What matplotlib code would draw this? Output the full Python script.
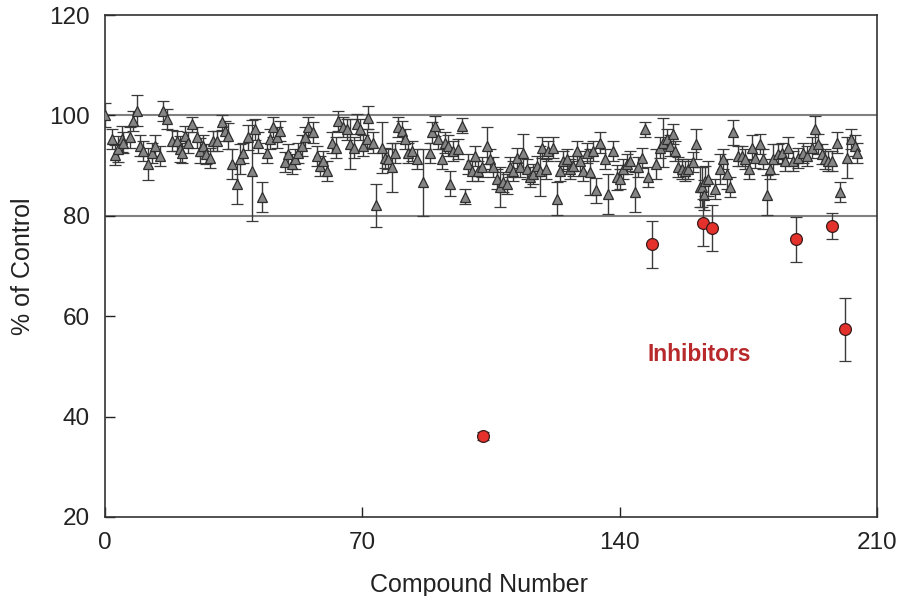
import matplotlib
matplotlib.use('Agg')
import matplotlib.pyplot as plt

plt.rcParams['font.family'] = ['Liberation Sans', 'DejaVu Sans']

# screened compounds (gray triangles): compound number, % of control, error
cmpd = [0, 2, 2.7, 3.6, 4.5, 5, 6.8, 7.7, 8.6, 9.5, 10.4, 11.8, 12.7, 13.6, 15, 15.9,
        16.8, 18.1, 19.5, 20.4, 21, 21.8, 22.7, 23.6, 24.9, 25.8, 26.7, 27.6, 28.6,
        29.5, 30.4, 31.7, 32.6, 33.5, 34.5, 35.8, 36.7, 37.6, 39, 39.9, 40.8, 41.7,
        42.6, 44, 44.9, 45.8, 46.7, 47.6, 49, 49.9, 50.8, 51.7, 52.6, 53.5, 54.4,
        55.3, 56.7, 57.6, 58.5, 59.4, 60.3, 61.7, 62.8, 63.5, 64.8, 65.7, 66.6, 67.6,
        68.5, 69.4, 70.3, 71.2, 71.6, 73, 73.7, 75.3, 76.2, 77.1, 78, 78.9, 79.8,
        80.7, 81.6, 82.5, 83.4, 84.8, 86.6, 88.4, 88.9, 89.8, 90.7, 91.6, 92.5, 93.4,
        93.8, 94.8, 96.1, 97, 97.9, 98.8, 99.7, 100.7, 101.6, 102.5, 103.8, 104.7,
        105.6, 106.5, 107.4, 108.4, 109.3, 110.2, 111.1, 112, 112.9, 113.8, 114.8,
        115.6, 116.5, 117.4, 118.3, 118.8, 120.1, 120.6, 121.8, 122.9, 123.8, 124.7,
        125.6, 126.5, 127.4, 128.3, 129.2, 130.1, 131, 131.9, 132.8, 133.7, 134.6,
        136, 136.9, 138.3, 139.2, 140.1, 141, 141.9, 142.8, 144.2, 145.1, 146, 146.9,
        147.8, 150, 151, 151.9, 152.8, 153.7, 154.4, 155.1, 156, 156.9, 157.8, 158.7,
        160, 160.9, 161.9, 162.3, 163, 163.2, 164.1, 166, 167.3, 168, 169.1, 170,
        170.9, 172.3, 173.2, 174.1, 175.3, 175.9, 176.8, 178.2, 179.1, 180, 180.9,
        181.8, 183.2, 184.1, 185, 185.9, 187.2, 188.6, 190, 190.9, 192.2, 193.1, 194,
        195, 195.9, 196.8, 197.7, 199, 199.9, 201.8, 202.8, 204, 204.5]
pct = [100, 95.3, 92.2, 93.3, 95.3, 94.6, 95.6, 98.9, 100.9, 94, 93, 90.3, 92.6, 94, 92, 100.9,
       99.2, 95, 94.9, 93.3, 92.6, 95.9, 94.6, 98.2, 95.6, 93, 94, 92.3, 91.6,
       94.9, 94.9, 98.6, 96.9, 95.9, 90.3, 86.4, 91.3, 92.6, 95.6, 89, 97.2, 94.6,
       83.8, 92.6, 95.3, 97.6, 95.6, 96.9, 90.7, 92.3, 90.3, 91.3, 92.6, 94, 95.6,
       97.6, 96.6, 92, 90, 91, 89, 94.6, 93.6, 98.9, 97.6, 97.2, 94.3, 93.6,
       98.2, 97.2, 94, 95.3, 99.5, 94.6, 82.1, 93.6, 91.6, 91.3, 89.7, 92.6, 97.6,
       96.9, 95.3, 92.6, 93, 91.3, 86.7, 92.6, 96.6, 97.9, 95.3, 91.3, 94.6, 94,
       86.4, 93, 93.3, 97.9, 83.8, 90.3, 89, 92, 89, 89.7, 94, 91.3,
       89.7, 87.4, 85.7, 86.7, 86.4, 89.7, 89, 91.6, 89.7, 92.6, 89.3,
       87.7, 88.4, 90, 89, 93.6, 89.3, 93, 93.6, 83.4, 89, 91,
       91.3, 89.3, 90, 93, 91, 89, 92.6, 88.7, 93, 85.1, 94.6,
       91.3, 84.4, 93, 87.7, 87.4, 89.3, 90.3, 91, 84.7, 89.7, 91.6, 97.2,
       87.7, 90.3, 93.6, 94.6, 95.3, 94, 96.3, 93, 89.7, 89.3, 89, 89.3,
       90.7, 94.3, 85.7, 85.7, 84.1, 87, 87.4, 85.4, 89.3, 91.3, 88.4, 85.7,
       96.6, 92, 92, 91.3, 89.3, 93.6, 91.6, 94.3, 91.3, 84.1, 89.3,
       91.3, 92.3, 92.6, 91, 93.6, 91, 91.6, 92.6, 92, 93.6, 97.2, 94.3,
       92.3, 91.3, 91, 91, 94.6, 84.7, 91.6, 95.3, 94, 92.6]
err = [2.4, 2, 2, 2.5, 2.5, 2, 2, 2, 3.1, 2, 2, 3.2, 2, 2, 2, 2,
       2, 2, 2, 2.5, 2, 2, 2, 1.5, 2, 2.5, 2, 2, 2,
       2, 2, 1.5, 2, 2.5, 3, 4, 3, 2, 2.5, 10, 2, 2,
       3, 2, 2, 2, 2, 2, 2, 2, 2, 2, 2, 2, 2,
       2, 2, 2, 2, 2, 2, 2, 2, 2, 2, 2, 4.9, 2,
       2, 2, 2, 2, 2.3, 2, 4.3, 5, 2, 2, 4.9, 2, 2,
       2, 2, 2, 2, 2, 6.7, 2, 2, 2, 2, 2, 2, 2,
       2.5, 2, 2, 1.5, 1.5, 2, 2, 2, 2, 2, 3.7, 2,
       2, 2, 4, 2, 2, 2, 2, 2, 2, 3.7, 2,
       2, 2, 2, 5, 2, 2, 2, 2, 3.3, 2, 2,
       2, 2, 2, 2, 2, 2, 2, 4.6, 2, 2.5, 2,
       2, 4, 2, 2.5, 2, 2, 2, 2, 4, 2, 2, 1.5,
       2, 3, 2, 4.9, 2, 2, 2, 2, 2, 2, 2, 2,
       2, 3, 4, 4, 3, 3, 3.5, 2, 3, 2, 3, 2,
       2.5, 2, 2, 2, 2, 2.5, 2, 2, 2, 4, 2,
       3, 2, 2, 2, 2, 2, 2, 2, 2, 2, 2.6, 2,
       2, 2, 2, 2, 2, 2, 4, 2, 2, 2]

# inhibitors (red circles)
inh_cmpd = [102.8, 148.8, 162.7, 165.1, 188, 197.8, 201.3]
inh_pct = [36.1, 74.3, 78.6, 77.6, 75.3, 78, 57.4]
inh_err = [0.8, 4.7, 4.7, 4.6, 4.5, 2.6, 6.3]

fig = plt.figure(figsize=(8.99, 5.96), dpi=100)
ax = fig.add_axes([0.1168, 0.1326, 0.8587, 0.8422])

ax.axhline(100, color='#808080', lw=1.5, zorder=1)
ax.axhline(80, color='#808080', lw=1.5, zorder=1)

ax.errorbar(cmpd, pct, yerr=err, fmt='^', color='#404040', ms=7.5,
            mfc='#858585', mec='#2e2e2e', mew=0.9, ecolor='#3a3a3a',
            elinewidth=1, capsize=4, capthick=1, zorder=3)
ax.errorbar(inh_cmpd, inh_pct, yerr=inh_err, fmt='o', ms=8.5,
            mfc='#e5312b', mec='#3a1a1a', mew=0.9, ecolor='#3a3a3a',
            elinewidth=1, capsize=4, capthick=1, zorder=4)

ax.text(161.6, 52.4, 'Inhibitors', color='#b8292c', fontsize=16.4,
        fontweight='bold', ha='center', va='center')

ax.set_xlim(0, 210)
ax.set_ylim(20, 120)
ax.set_xticks([0, 70, 140, 210])
ax.set_yticks([20, 40, 60, 80, 100, 120])
ax.tick_params(direction='in', length=7, width=1, labelsize=17.5, pad=11,
               colors='#222222')
for s in ax.spines.values():
    s.set_color('#333333')
    s.set_linewidth(1.2)

ax.set_xlabel('Compound Number', fontsize=18, color='#222222')
ax.xaxis.set_label_coords(0.484, -0.112)
ax.set_ylabel('% of Control', fontsize=18, color='#222222', labelpad=10)

fig.savefig('out.png', dpi=100)
